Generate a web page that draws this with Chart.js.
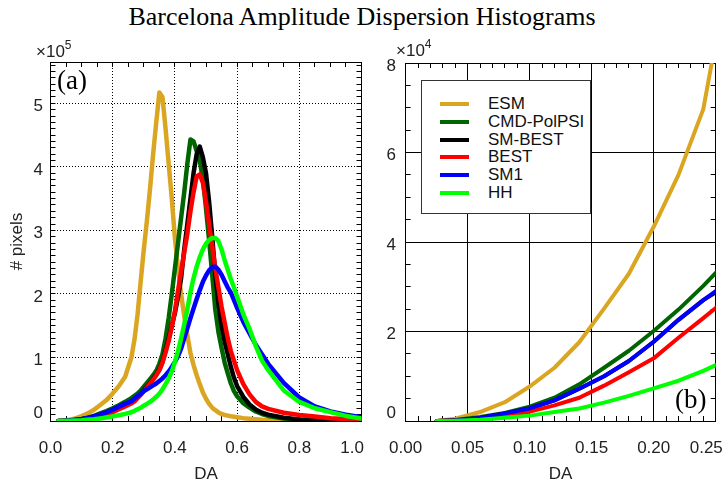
<!DOCTYPE html>
<html>
<head>
<meta charset="utf-8">
<title>Barcelona Amplitude Dispersion Histograms</title>
<script src="https://cdn.jsdelivr.net/npm/chart.js@4.4.0/dist/chart.umd.min.js"></script>
<style>
body{margin:0;width:724px;height:485px;overflow:hidden;background:#fff;position:relative;font-family:"Liberation Sans",Arial,Helvetica,sans-serif;color:#222;}
canvas{position:absolute;top:0;}
#panelA{left:0;}
#panelB{left:364px;}
.txt{position:absolute;white-space:nowrap;}
#titulo{left:0;top:4px;width:724px;text-align:center;font:26px/26px "Liberation Serif","Times New Roman",serif;color:#000;}
.letra{font:27px/27px "Liberation Serif","Times New Roman",serif;color:#000;}
.expo{font-size:17px;line-height:17px;}
.expo span{position:relative;top:-8px;font-size:12px;}
#leyenda{position:absolute;left:421px;top:80px;width:170px;height:134px;box-sizing:border-box;border:1px solid #333;background:#fff;overflow:hidden;}
.fila{position:absolute;left:0;height:20px;line-height:20px;font-size:17px;color:#111;}
.fila i{position:absolute;left:18px;top:8px;width:29px;height:4px;}
.fila b{position:absolute;left:66px;font-weight:normal;}
</style>
</head>
<body>
<div id="titulo" class="txt">Barcelona Amplitude Dispersion Histograms</div>
<canvas id="panelA" width="364" height="485"></canvas>
<canvas id="panelB" width="360" height="485"></canvas>
<div class="txt expo" style="left:36px;top:43px">×10<span>5</span></div>
<div class="txt expo" style="left:396px;top:42px">×10<span>4</span></div>
<div class="txt letra" style="left:57px;top:67px">(a)</div>
<div class="txt letra" style="left:675px;top:386px">(b)</div>
<div id="leyenda"></div>
<script>
// Datos: amplitud de dispersion (DA) y numero de pixeles por serie
const da=[0.025,0.04,0.06,0.08,0.10,0.12,0.14,0.16,0.18,0.20,0.22,0.24,0.26,
  0.27,0.28,0.29,0.30,0.31,0.32,0.33,0.34,0.35,0.36,0.37,0.38,0.39,0.40,0.41,0.42,0.43,0.44,
  0.45,0.46,0.47,0.48,0.49,0.50,0.51,0.52,0.53,0.54,0.55,0.56,0.57,0.58,0.59,0.60,
  0.62,0.64,0.66,0.68,0.70,0.75,0.80,0.85,0.90,0.95,1.00];
const esm=[0,500,2000,4200,7700,11900,17600,25100,32900,43400,55000,69700,100000,
  128000,168000,220000,270000,315000,365000,420000,470000,517000,510000,460000,405000,350000,288000,240000,200000,165000,135000,
  107000,88000,72000,58000,45000,35000,27000,21000,17000,13500,11000,9500,8500,7500,6800,6000,
  4500,3500,2700,2000,1600,1000,600,400,250,150,100];
const cmd=[0,200,900,1800,3200,5200,8200,11900,15700,20100,24900,30200,36000,
  39500,43000,48000,54000,60000,66000,72000,79000,90000,105000,130000,162000,200000,240000,280000,320000,360000,405000,
  443000,440000,425000,410000,380000,335000,285000,230000,175000,140000,115000,92000,75000,59000,47000,39000,
  28000,21000,15000,11000,8000,4000,2000,1200,700,400,200];
const smBest=[0,100,700,1700,2800,4600,7200,10000,13400,17700,22600,27000,30500,
  32000,37000,42000,48000,54000,60000,66000,73000,81000,93000,111000,130000,150000,170000,195000,225000,270000,310000,
  350000,390000,420000,432000,415000,390000,345000,290000,230000,185000,150000,125000,105000,85000,68000,55000,
  38000,26000,18000,13000,10000,5000,2500,1500,800,500,300];
const best=[0,100,400,1000,2100,3500,5200,7900,10900,14000,18600,23000,27500,
  31000,36000,41000,47000,53000,59000,65000,72000,80000,92000,108000,126000,148000,173000,205000,235000,265000,295000,
  330000,360000,385000,388000,375000,345000,310000,275000,240000,210000,180000,155000,130000,110000,95000,80000,
  58000,42000,30000,23000,19000,13000,9500,7000,4500,3000,2000];
const sm1=[0,100,700,1700,2800,4600,7200,10000,13400,17700,22600,27000,31000,
  35000,39000,43000,47000,50000,53000,56000,59000,63000,67000,72000,78000,85000,93000,102000,114000,130000,146000,
  162000,177000,192000,206000,219000,229000,237000,242000,243000,238000,230000,220000,210000,202000,190000,178000,
  156000,138000,120000,105000,90000,60000,37000,23000,15000,10000,6000];
const hh=[0,50,300,700,1200,2000,2800,4100,5600,7300,9000,11200,13800,
  16000,18500,21000,24000,27000,30000,34000,38000,43000,50000,58000,67000,78000,93000,110000,130000,152000,176000,
  203000,225000,243000,258000,270000,279000,285000,288000,288000,283000,270000,253000,238000,223000,210000,196000,
  168000,145000,118000,95000,80000,48000,30000,20000,14000,8000,4000];

const seriesNames=["ESM","CMD-PolPSI","SM-BEST","BEST","SM1","HH"];
const seriesColors=["#DAA520","#006400","#000000","#FF0000","#0000FF","#00FF00"];
const seriesData=[esm,cmd,smBest,best,sm1,hh];

// Marcas de los ejes
const xTicksA=[0,0.2,0.4,0.6,0.8,1.0];
const yTicksA=[0,1,2,3,4,5];          // x 10^5
const xTicksB=[0,0.05,0.10,0.15,0.20,0.25];
const yTicksB=[0,2,4,6,8];            // x 10^4

const fuente='"Liberation Sans", Arial, Helvetica, sans-serif';

// Ejes con marcas hacia dentro en los cuatro lados
function ejes(p){
  const cerca=(v,lista,f)=>lista.some(t=>Math.abs(t*f-v)<1e-6*f);
  const multiplo=(v,m)=>Math.abs(v/m-Math.round(v/m))<1e-6;
  const rejilla=(lista,f,max)=>c=>{const v=c.tick.value;return cerca(v,lista,f)&&v>1e-9&&v<max*(1-1e-9)?"#000":"rgba(0,0,0,0)";};
  const marcaY=c=>multiplo(c.tick.value,p.yMinor)?"#000":"rgba(0,0,0,0)";
  const sinPad=s=>{s.paddingLeft=0;s.paddingRight=0;s.paddingTop=0;s.paddingBottom=0;};
  const letra={family:fuente,size:17};
  const marca={tickLength:-5,tickColor:"#000",tickWidth:1,lineWidth:1};
  // la ultima etiqueta del eje x va corrida a la izquierda
  const etiquetaX=v=>{
    if(!cerca(v,p.xTicks,1)) return "";
    const t=v.toFixed(p.xDec);
    return Math.abs(v-p.xMax)<1e-9?t+"\u2007\u2007":t;
  };
  // el cero del eje y queda un poco por encima del eje
  const etiquetaY=v=>{
    if(!cerca(v,p.yTicks,p.yFactor)) return "";
    const t=String(Math.round(v/p.yFactor));
    return v===0?[t,""]:t;
  };
  return {
    x:{type:"linear",position:"bottom",min:0,max:p.xMax,border:{color:"#000",width:1,dash:p.dash},
      grid:{...marca,color:rejilla(p.xTicks,1,p.xMax)},
      ticks:{stepSize:p.xStep,autoSkip:false,maxRotation:0,minRotation:0,padding:22,color:"#222",font:letra,callback:etiquetaX},
      title:{display:true,text:"DA",color:"#222",font:letra,padding:0},
      afterFit:s=>{s.height=64;sinPad(s);}},
    x2:{type:"linear",position:"top",min:0,max:p.xMax,border:{color:"#000",width:1},
      grid:{...marca,drawOnChartArea:false},
      ticks:{stepSize:p.xStep,autoSkip:false,display:false},
      afterFit:s=>{s.height=0;sinPad(s);}},
    y:{type:"linear",position:"left",min:0,max:p.yMax,border:{color:"#000",width:1,dash:p.dash},
      grid:{...marca,color:rejilla(p.yTicks,p.yFactor,p.yMax),tickColor:marcaY},
      ticks:{stepSize:p.yStep,autoSkip:false,padding:p.yPad,labelOffset:3,color:"#222",font:letra,callback:etiquetaY},
      title:{display:!!p.yTitle,text:p.yTitle||"",color:"#222",font:letra,padding:{top:7,bottom:0}},
      afterFit:s=>{s.width=p.yWidth;sinPad(s);}},
    y2:{type:"linear",position:"right",min:0,max:p.yMax,border:{color:"#000",width:1},
      grid:{...marca,drawOnChartArea:false,tickColor:marcaY},
      ticks:{stepSize:p.yStep,autoSkip:false,display:false},
      afterFit:s=>{s.width=0;sinPad(s);}}
  };
}

function grafico(id,p){
  return new Chart(document.getElementById(id),{
    type:"line",
    data:{datasets:seriesData.map((serie,i)=>({
      label:seriesNames[i],
      data:da.map((x,j)=>({x,y:serie[j]})),
      borderColor:seriesColors[i],backgroundColor:seriesColors[i],
      borderWidth:p.lineW,pointRadius:0,tension:0,fill:false,
      borderJoinStyle:"round",borderCapStyle:"round",
      order:seriesData.length-i
    }))},
    options:{responsive:false,animation:false,events:[],
      layout:{padding:p.pad},
      plugins:{legend:{display:false},tooltip:{enabled:false}},
      scales:ejes(p)}
  });
}

// Panel (a): histograma completo
grafico("panelA",{xMax:1.0,xStep:0.05,xTicks:xTicksA,xDec:1,
  yMax:565000,yStep:5000,yMinor:10000,yTicks:yTicksA,yFactor:1e5,yPad:12.5,yWidth:50.5,yTitle:"# pixels",
  dash:[1,2],lineW:4.5,pad:{top:62,right:2.5,bottom:0,left:0}});

// Panel (b): zoom de la zona baja
grafico("panelB",{xMax:0.25,xStep:0.01,xTicks:xTicksB,xDec:2,
  yMax:80000,yStep:5000,yMinor:5000,yTicks:yTicksB,yFactor:1e4,yPad:14.6,yWidth:41.6,yTitle:"",
  dash:[],lineW:4,pad:{top:63,right:8.3,bottom:0,left:0}});

// Leyenda
const leyenda=document.getElementById("leyenda");
seriesNames.forEach((n,i)=>{
  const fila=document.createElement("div");
  fila.className="fila";
  fila.style.top=`${13+i*17.8}px`;
  fila.style.width="100%";
  fila.innerHTML=`<i style="background:${seriesColors[i]}"></i><b>${n}</b>`;
  leyenda.appendChild(fila);
});
</script>
</body>
</html>
